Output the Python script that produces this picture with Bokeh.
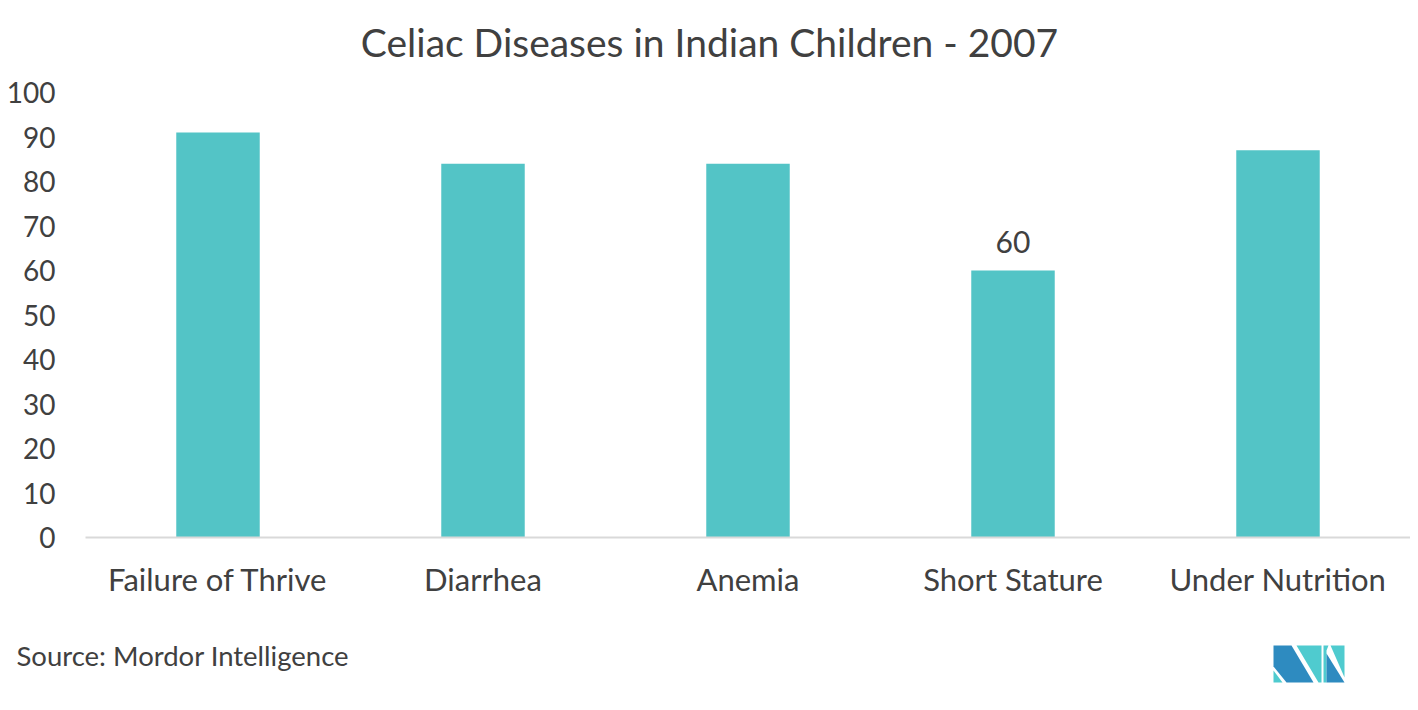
from bokeh.plotting import figure
from bokeh.models import ColumnDataSource, Label, FactorRange, Range1d, FixedTicker
from bokeh.layouts import column
from bokeh.core.properties import value
from bokeh.embed import file_html
from bokeh.resources import INLINE

categories = ["Failure of Thrive", "Diarrhea", "Anemia", "Short Stature", "Under Nutrition"]
values = [91, 84, 84, 60, 87]
y_ticks = [0, 10, 20, 30, 40, 50, 60, 70, 80, 90, 100]
labelled_category = "Short Stature"
title_text = "Celiac Diseases in Indian Children - 2007"
source_text = "Source: Mordor Intelligence"

FONT = "Lato"
TXT = "#404040"
BAR = "#53C4C6"
W = 1410


def blank(height, y0):
    f = figure(width=W, height=height, x_range=Range1d(0, W), y_range=Range1d(y0 + height, y0),
               output_backend="svg", toolbar_location=None, x_axis_type=None, y_axis_type=None,
               min_border=0, min_border_left=0, min_border_right=0, min_border_top=0,
               min_border_bottom=0, outline_line_color=None, frame_align=False)
    f.grid.grid_line_color = None
    return f


# ---------- header (title) ----------
hdr = blank(70, 0)
hdr.text(x=[709], y=[41], text=[title_text], text_align="center", text_baseline="middle",
         text_font=value(FONT), text_font_size="39px", text_color=TXT)

# ---------- main chart ----------
p = figure(width=W, height=560, x_range=FactorRange(*categories), y_range=Range1d(0, 100),
           output_backend="svg", toolbar_location=None,
           min_border_left=85, min_border_right=0, min_border_top=22, min_border_bottom=93)
p.outline_line_color = None
p.grid.grid_line_color = None

src = ColumnDataSource(dict(cat=categories, val=values))
p.vbar(x="cat", top="val", width=0.315, source=src, color=BAR, line_color=None)

p.xaxis.axis_line_color = "#D9D9D9"
p.xaxis.axis_line_width = 2
p.xaxis.major_tick_line_color = None
p.xaxis.minor_tick_line_color = None
p.xaxis.major_label_text_font = FONT
p.xaxis.major_label_text_font_size = "31px"
p.xaxis.major_label_text_color = TXT
p.xaxis.major_label_standoff = 16

p.yaxis.ticker = FixedTicker(ticks=y_ticks)
p.yaxis.axis_line_color = None
p.yaxis.major_tick_line_color = None
p.yaxis.minor_tick_line_color = None
p.yaxis.major_label_text_font = FONT
p.yaxis.major_label_text_font_size = "28px"
p.yaxis.major_label_text_color = TXT
p.yaxis.major_label_standoff = 24

idx = categories.index(labelled_category)
p.add_layout(Label(x=idx + 0.5, y=values[idx], text=str(values[idx]), text_align="center",
                   text_baseline="bottom", y_offset=18, text_font=FONT, text_font_size="30px",
                   text_color=TXT))

# ---------- footer (source + logo) ----------
ftr = blank(64, 630)
ftr.text(x=[16], y=[655], text=[source_text], text_align="left", text_baseline="middle",
         text_font=value(FONT), text_font_size="27.5px", text_color=TXT)

DARK = "#2E8BC0"
TEAL = "#4FCBCF"
logo = [
    (DARK, [(1273, 645), (1291, 645), (1313, 682), (1286, 682), (1273, 666)]),
    (TEAL, [(1273, 670), (1282, 682), (1273, 682)]),
    (TEAL, [(1296, 645), (1321, 645), (1321, 682), (1318, 682)]),
    (TEAL, [(1323, 645), (1328, 645), (1326, 650), (1326, 682), (1323, 682)]),
    (DARK, [(1326, 653), (1344, 682), (1326, 682)]),
    (TEAL, [(1330, 645), (1344, 645), (1344, 677)]),
]
ftr.patches(xs=[[a for a, b in pts] for c, pts in logo],
            ys=[[b for a, b in pts] for c, pts in logo],
            fill_color=[c for c, pts in logo], line_color=None)

layout = column(hdr, p, ftr, spacing=0)
open("out.html", "w").write(file_html(layout, INLINE))
